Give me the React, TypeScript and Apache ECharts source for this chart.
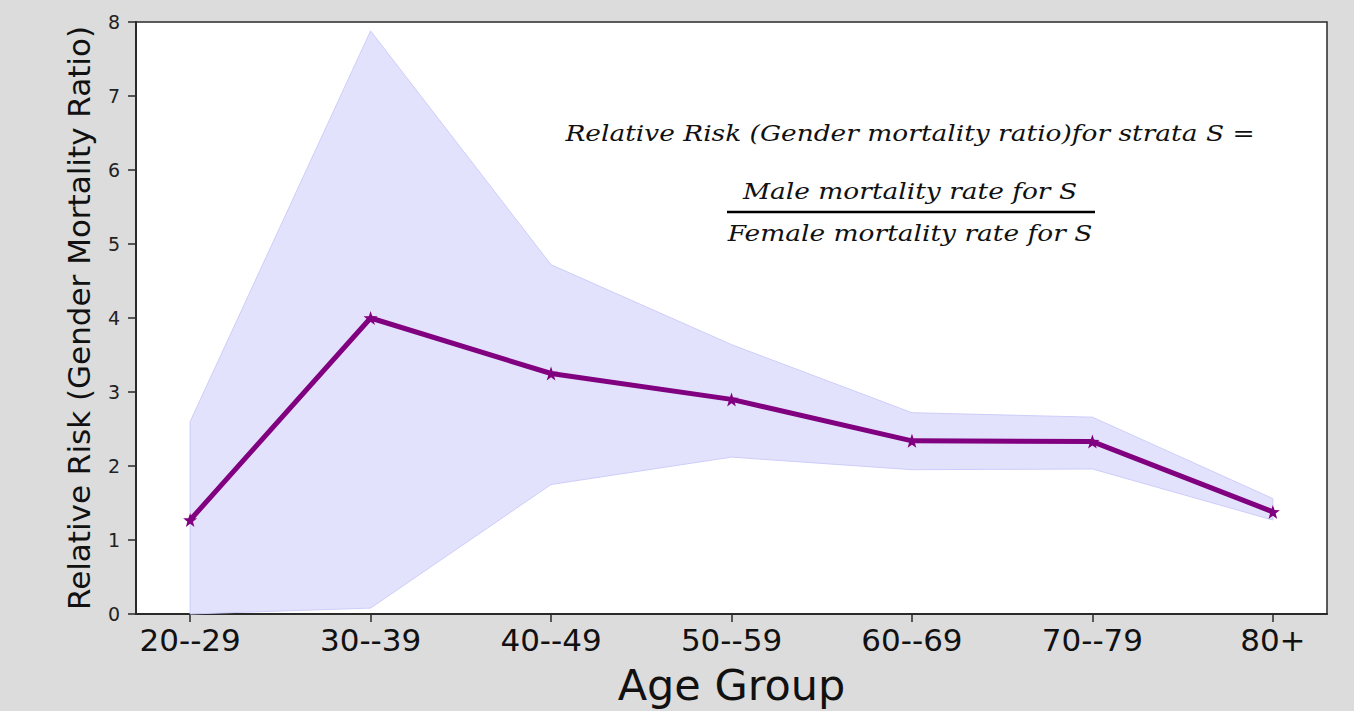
import React, { useEffect, useRef } from "react";
import * as echarts from "echarts";

// Age strata on the x axis
const ageGroups = ["20--29", "30--39", "40--49", "50--59", "60--69", "70--79", "80+"];
// Relative risk (male / female mortality ratio) per stratum
const relativeRisk = [1.27, 4.0, 3.25, 2.9, 2.34, 2.33, 1.38];
// Confidence band bounds
const upperBound = [2.6, 7.88, 4.72, 3.64, 2.72, 2.66, 1.56];
const lowerBound = [0.0, 0.08, 1.75, 2.12, 1.95, 1.96, 1.27];
// Y tick values
const yTicks = [0, 1, 2, 3, 4, 5, 6, 7, 8];

const STAR =
  "path://M0,-10 L2.35,-3.24 L9.51,-3.09 L3.8,1.24 L5.88,8.09 L0,4 L-5.88,8.09 L-3.8,1.24 L-9.51,-3.09 L-2.35,-3.24 Z";

const FORMULA_FONT = "'DejaVu Serif', serif";
const FRAME = "#2a2a2a";

const formulaText = (text: string, y: number) => ({
  type: "text",
  x: 910,
  y,
  scaleX: 1.15,
  style: {
    text,
    fontFamily: FORMULA_FONT,
    fontStyle: "italic",
    fontSize: 23,
    fill: "#111",
    textAlign: "center",
    textVerticalAlign: "middle",
  },
});

export default function App() {
  const ref = useRef<HTMLDivElement>(null);

  useEffect(() => {
    if (!ref.current) return;
    const chart = echarts.init(ref.current, null, { renderer: "svg" });
    const xIdx = ageGroups.map((_, i) => i);

    chart.setOption({
      animation: false,
      backgroundColor: "#dcdcdc",
      grid: {
        left: 136,
        right: 27,
        top: 22,
        bottom: 97,
        containLabel: false,
        outerBoundsMode: "none",
        show: true,
        backgroundColor: "#ffffff",
        borderColor: FRAME,
        borderWidth: 1.5,
      },
      xAxis: {
        type: "value",
        min: -0.3,
        max: 6.3,
        name: "Age Group",
        nameLocation: "middle",
        nameGap: 49,
        nameTextStyle: { fontFamily: "'DejaVu Sans'", fontSize: 43, color: "#111" },
        axisLine: { show: true, onZero: false, lineStyle: { color: FRAME, width: 2 } },
        axisTick: { show: true, length: 8, customValues: xIdx, lineStyle: { color: FRAME, width: 1.5 } },
        axisLabel: {
          customValues: xIdx,
          formatter: (v: number) => ageGroups[Math.round(v)] ?? "",
          fontFamily: "'DejaVu Sans'",
          fontSize: 31,
          color: "#111",
          margin: 10,
        },
        splitLine: { show: false },
      },
      yAxis: {
        type: "value",
        min: yTicks[0],
        max: yTicks[yTicks.length - 1],
        interval: 1,
        name: "Relative Risk (Gender Mortality Ratio)",
        nameLocation: "middle",
        nameGap: 42,
        nameTextStyle: { fontFamily: "'DejaVu Sans'", fontSize: 31, color: "#111" },
        axisLine: { show: true, onZero: false, lineStyle: { color: FRAME, width: 2 } },
        axisTick: { show: true, length: 8, lineStyle: { color: FRAME, width: 1.5 } },
        axisLabel: {
          fontFamily: "'DejaVu Sans'",
          fontSize: 19,
          color: "#222",
          margin: 16,
        },
        splitLine: { show: false },
      },
      graphic: [
        formulaText("Relative Risk (Gender mortality ratio)for strata S =", 133),
        formulaText("Male mortality rate for S", 191),
        {
          type: "line",
          shape: { x1: 727, y1: 212, x2: 1095, y2: 212 },
          style: { stroke: "#000", lineWidth: 2.5 },
        },
        formulaText("Female mortality rate for S", 233),
      ],
      series: [
        {
          type: "custom",
          silent: true,
          z: 1,
          data: ageGroups.map((_, i) => [i, lowerBound[i], upperBound[i]]),
          encode: { x: 0, y: [1, 2] },
          renderItem: (params: any, api: any) => {
            if (params.dataIndex !== 0) return null;
            const pts: number[][] = [];
            upperBound.forEach((v, i) => pts.push(api.coord([i, v])));
            for (let i = lowerBound.length - 1; i >= 0; i--) {
              pts.push(api.coord([i, lowerBound[i]]));
            }
            return {
              type: "polygon",
              shape: { points: pts },
              style: {
                fill: "rgba(226,226,252,1)",
                stroke: "rgba(205,205,250,1)",
                lineWidth: 1,
              },
            };
          },
        },
        {
          type: "line",
          z: 3,
          data: relativeRisk.map((v, i) => [i, v]),
          symbol: STAR,
          symbolSize: 14,
          showAllSymbol: true,
          lineStyle: { color: "#800080", width: 5 },
          itemStyle: { color: "#800080" },
        },
      ],
    });

    return () => chart.dispose();
  }, []);

  return (
    <div
      ref={ref}
      style={{ position: "fixed", left: 0, top: 0, width: 1354, height: 711 }}
    />
  );
}
